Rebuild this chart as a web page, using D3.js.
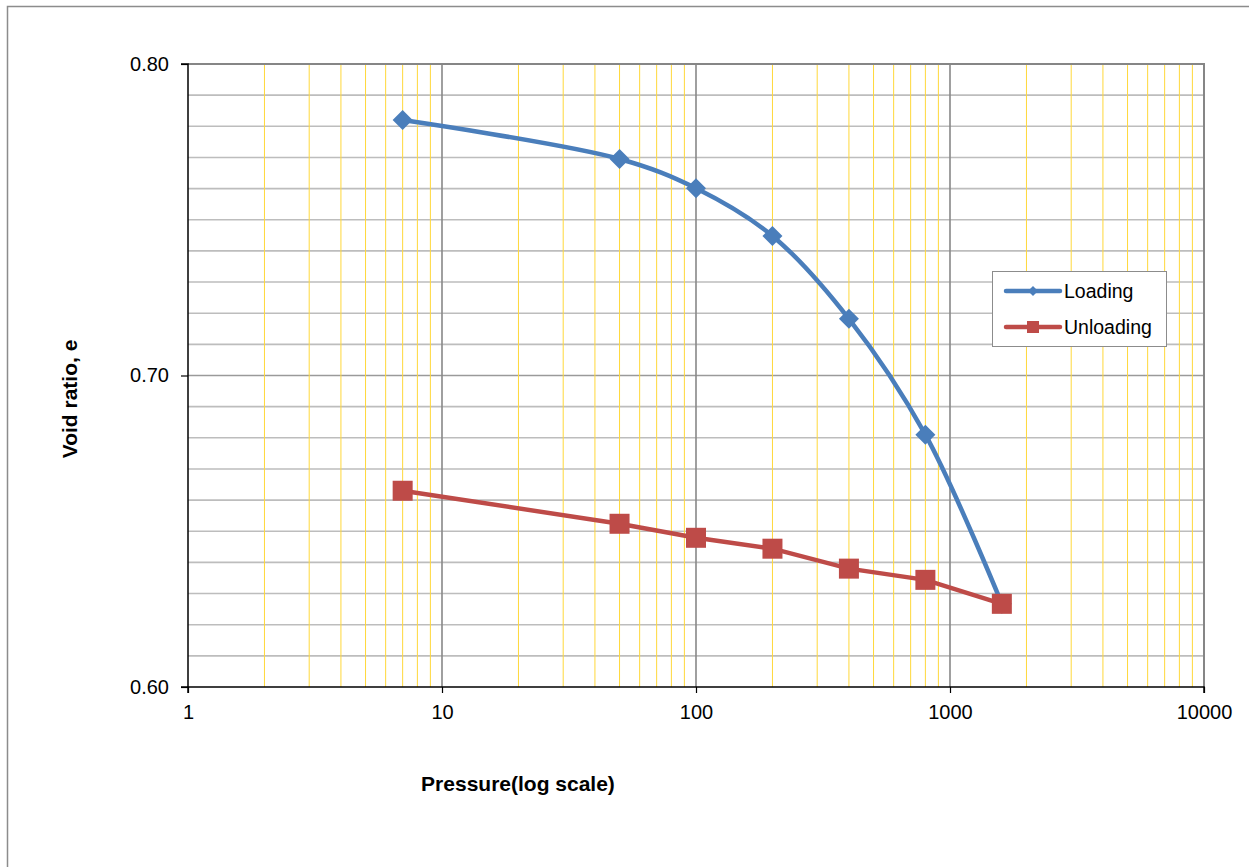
<!DOCTYPE html>
<html><head><meta charset="utf-8">
<script src="https://cdn.jsdelivr.net/npm/d3@7"></script>
<style>body{margin:0;background:#fff}svg{display:block}text{font-family:"Liberation Sans",Arial,sans-serif}</style>
</head><body>
<svg id="c" width="1249" height="867"></svg>
<script>
const pressure = [7, 50, 100, 200, 400, 800, 1600];
const loading = [0.782, 0.7695, 0.7601, 0.7448, 0.7182, 0.6810, 0.6267];
const unloading = [0.6630, 0.6524, 0.6479, 0.6444, 0.6380, 0.6344, 0.6267];
const xTicks = [1, 10, 100, 1000, 10000];
const yTicks = [0.60, 0.70, 0.80];
const seriesNames = ["Loading", "Unloading"];

const svg = d3.select("#c");
const L = 188, R = 1204, T = 64, B = 687;
const x = d3.scaleLog().domain([1, 10000]).range([L, R]);
const y = d3.scaleLinear().domain([0.60, 0.80]).range([B, T]);

// outer border
svg.append("rect").attr("x", 7.5).attr("y", 6.5).attr("width", 1260).attr("height", 880)
  .attr("fill", "none").attr("stroke", "#8c8c8c").attr("stroke-width", 1.5);

const g = svg.append("g");
const hg = d3.range(0.61, 0.80, 0.01);
g.selectAll(".hg").data(hg).enter().append("line")
  .attr("x1", L).attr("x2", R).attr("y1", d => y(d)).attr("y2", d => y(d))
  .attr("stroke", d => Math.abs(d - 0.70) < 1e-6 ? "#9a9a9a" : "#bdbdbd").attr("stroke-width", 1.6);
const minor = [];
[1, 10, 100, 1000].forEach(b => { for (let k = 2; k <= 9; k++) minor.push(b * k); });
g.selectAll(".vm").data(minor).enter().append("line")
  .attr("x1", d => x(d)).attr("x2", d => x(d)).attr("y1", T).attr("y2", B)
  .attr("stroke", "#ffd83a").attr("stroke-width", 1);
g.selectAll(".vM").data([10, 100, 1000]).enter().append("line")
  .attr("x1", d => x(d)).attr("x2", d => x(d)).attr("y1", T).attr("y2", B)
  .attr("stroke", "#888").attr("stroke-width", 1.6);
g.append("path").attr("d", `M${L},${T}H${R}V${B}`).attr("fill", "none")
  .attr("stroke", "#868686").attr("stroke-width", 2);

const yAxis = d3.axisLeft(y).tickValues(yTicks).tickFormat(d3.format(".2f")).tickSize(7).tickPadding(12);
const ya = svg.append("g").attr("transform", `translate(${L},0)`).call(yAxis);
const xAxis = d3.axisBottom(x).tickValues(xTicks).tickFormat(d3.format("d")).tickSize(6).tickPadding(12);
const xa = svg.append("g").attr("transform", `translate(0,${B})`).call(xAxis);
[ya, xa].forEach(a => {
  a.attr("font-size", null).attr("font-family", null);
  a.select(".domain").attr("stroke", "#000").attr("stroke-width", 1.5);
  a.selectAll(".tick line").attr("stroke", "#000").attr("stroke-width", 1.2);
  a.selectAll("text").style("font-size", "20px").attr("fill", "#000").style("font-family", '"Liberation Sans",Arial,sans-serif');
});
ya.select(".domain").attr("d", `M-7,${T}H0V${B}H-7`);
xa.select(".domain").attr("d", `M${L},6V0H${R}V6`);

const blue = "#4a7ebb", red = "#be4b48";
const ptsL = pressure.map((p, i) => [x(p), y(loading[i])]);
const ptsU = pressure.map((p, i) => [x(p), y(unloading[i])]);
svg.append("path").attr("d", d3.line().curve(d3.curveCatmullRom.alpha(0.5))(ptsL))
  .attr("fill", "none").attr("stroke", blue).attr("stroke-width", 4.5);
svg.selectAll(".dl").data(ptsL).enter().append("path")
  .attr("transform", d => `translate(${d[0]},${d[1]})`)
  .attr("d", "M0,-10L10,0L0,10L-10,0Z").attr("fill", blue);
svg.append("path").attr("d", d3.line()(ptsU))
  .attr("fill", "none").attr("stroke", red).attr("stroke-width", 4.5);
svg.selectAll(".su").data(ptsU).enter().append("rect")
  .attr("x", d => d[0] - 10).attr("y", d => d[1] - 10).attr("width", 20).attr("height", 20).attr("fill", red);

const lg = svg.append("g");
lg.append("rect").attr("x", 992.5).attr("y", 271.5).attr("width", 174).attr("height", 75)
  .attr("fill", "#fff").attr("stroke", "#8c8c8c").attr("stroke-width", 1);
[[291, blue, "d"], [327, red, "s"]].forEach((r, i) => {
  lg.append("line").attr("x1", 1006).attr("x2", 1060).attr("y1", r[0]).attr("y2", r[0])
    .attr("stroke", r[1]).attr("stroke-width", 4.5).attr("stroke-linecap", "round");
  if (r[2] === "d") lg.append("path").attr("d", `M1033,${r[0]-5}L1038,${r[0]}L1033,${r[0]+5}L1028,${r[0]}Z`).attr("fill", r[1]);
  else lg.append("rect").attr("x", 1027).attr("y", r[0] - 6).attr("width", 12).attr("height", 12).attr("fill", r[1]);
  lg.append("text").attr("x", 1064).attr("y", r[0] + 7).attr("font-size", 19.5).text(seriesNames[i]);
});

svg.append("text").attr("x", 518).attr("y", 791).attr("text-anchor", "middle")
  .attr("font-size", 21).attr("font-weight", "bold").text("Pressure(log scale)");
svg.append("text").attr("transform", "translate(77,399) rotate(-90)").attr("text-anchor", "middle")
  .attr("font-size", 21).attr("font-weight", "bold").text("Void ratio, e");
</script>
</body></html>
